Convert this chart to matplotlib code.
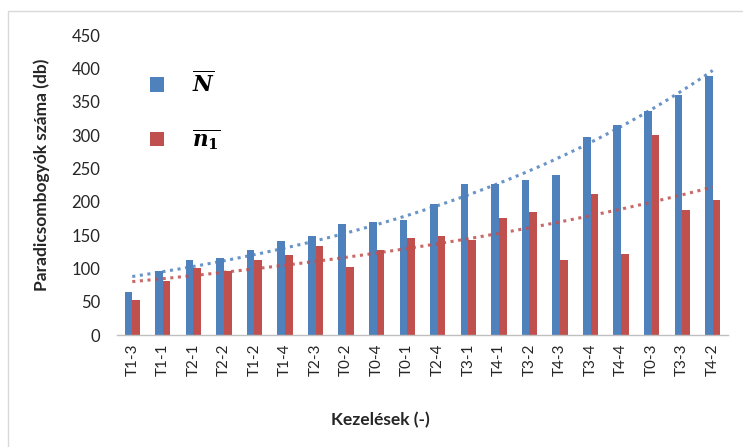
import numpy as np
import matplotlib
matplotlib.use("Agg")
import matplotlib.pyplot as plt
from matplotlib.patches import Rectangle

categories = ["T1-3", "T1-1", "T2-1", "T2-2", "T1-2", "T1-4", "T2-3", "T0-2", "T0-4", "T0-1",
              "T2-4", "T3-1", "T4-1", "T3-2", "T4-3", "T3-4", "T4-4", "T0-3", "T3-3", "T4-2"]
N_mean = [65, 96, 112, 115, 128, 141, 149, 167, 170, 172,
          196, 227, 227, 232, 240, 297, 315, 336, 360, 388]
n1_mean = [52, 81, 101, 96, 112, 120, 133, 102, 127, 146,
           149, 142, 175, 185, 112, 211, 122, 300, 188, 203]
yticks = [0, 50, 100, 150, 200, 250, 300, 350, 400, 450]

blue = "#4F81BD"
red = "#C0504D"

plt.rcParams['font.family'] = ['Lato', 'DejaVu Sans']
plt.rcParams['mathtext.fontset'] = 'custom'
plt.rcParams['mathtext.rm'] = 'DejaVu Serif:bold'
plt.rcParams['mathtext.it'] = 'DejaVu Serif:italic:bold'
plt.rcParams['mathtext.bf'] = 'DejaVu Serif:bold'

fig = plt.figure(figsize=(7.43, 4.47), dpi=100)
ax = fig.add_axes([117/743, 1-335/447, (728-117)/743, 300/447])

x = np.arange(1, len(categories) + 1)
w = 0.25
ax.bar(x - w/2, N_mean, width=w, color=blue, label=r'$\overline{N}$')
ax.bar(x + w/2, n1_mean, width=w, color=red, label=r'$\overline{n_{\mathbf{1}}}$')

# exponential trendlines (Excel-like)
xs = np.linspace(1, len(categories), 200)
for vals, c in ((N_mean, blue), (n1_mean, red)):
    b, a = np.polyfit(x, np.log(vals), 1)
    ax.plot(xs, np.exp(a + b * xs), linestyle=(0, (1, 1.5)), color=c, lw=2.2, alpha=0.85)

ax.set_xlim(0.5, len(categories) + 0.5)
ax.set_ylim(0, 450)
ax.set_yticks(yticks)
ax.set_xticks(x)
ax.set_xticklabels(categories, rotation=90, fontsize=11, color="#262626")
ax.tick_params(axis='y', labelsize=12, colors="#262626", length=0, pad=12)
ax.tick_params(axis='x', length=0, pad=6)
for s in ("top", "right", "left"):
    ax.spines[s].set_visible(False)
ax.spines["bottom"].set_color("#BFBFBF")
ax.spines["bottom"].set_linewidth(1)

fig.text(42/743, 1-175/447, "Paradicsombogyók száma (db)", rotation=90, ha='center', va='center',
         fontsize=12.5, fontweight='bold', color="#262626")
fig.text(380/743, 1-420/447, "Kezelések (-)", ha='center', va='center',
         fontsize=12.5, fontweight='bold', color="#262626")

leg = ax.legend(loc='upper left', bbox_to_anchor=(0.022, 0.945), frameon=False, fontsize=15.5,
                labelspacing=1.45, handlelength=0.65, handleheight=0.65, handletextpad=1.3)

fig.patches.append(Rectangle((8/743, -0.1), 1.0, 1 - 11/447 + 0.1, transform=fig.transFigure,
                             fill=False, edgecolor="#D9D9D9", lw=1))

fig.savefig("out.png", dpi=100)
